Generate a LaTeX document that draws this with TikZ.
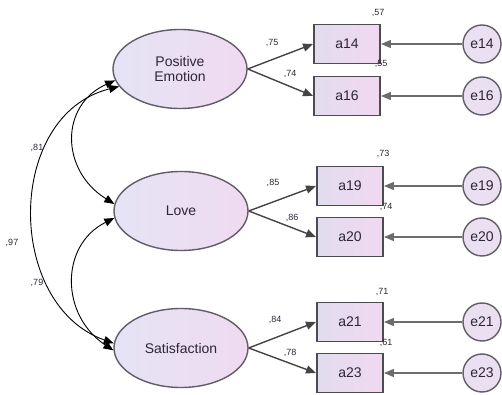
\documentclass[tikz,border=0pt]{standalone}
\usepackage{fontspec}
\setmainfont{Liberation Sans}
\usetikzlibrary{shapes.geometric,arrows.meta}
\definecolor{txt}{HTML}{2C2636}
\definecolor{latL}{HTML}{E4E4F5}
\definecolor{latR}{HTML}{F0DAF1}
\definecolor{latD}{HTML}{625C68}
\definecolor{boxL}{HTML}{E2DCEF}
\definecolor{boxR}{HTML}{F1D8F1}
\definecolor{boxD}{HTML}{4E4A52}
\definecolor{errF}{HTML}{EBE0F1}
\definecolor{lineC}{HTML}{444444}
\begin{document}
\begin{tikzpicture}[x=1pt,y=1pt,
  latent/.style={ellipse, draw=latD, line width=1.4pt, left color=latL, right color=latR,
    minimum width=134pt, minimum height=79pt, inner sep=0pt, align=center,
    font=\fontsize{14}{15.5}\selectfont, text=txt},
  obs/.style={rectangle, draw=boxD, line width=1.9pt, left color=boxL, right color=boxR,
    minimum width=66pt, minimum height=39pt, inner sep=0pt,
    font=\fontsize{14}{16}\selectfont, text=txt},
  err/.style={circle, draw=latD, line width=1.4pt, fill=errF, minimum size=38pt, inner sep=0pt,
    font=\fontsize{14}{16}\selectfont, text=txt},
  coef/.style={font=\fontsize{9}{10}\selectfont, text=txt, inner sep=0pt},
  load/.style={draw=lineC, line width=1.4pt, -{Triangle[length=10pt,width=8pt]}},
  cov/.style={draw=black, line width=0.9pt,
    {Triangle[length=10pt,width=8pt]}-{Triangle[length=10pt,width=8pt]}}
]
\useasboundingbox (0,0) rectangle (502,395);

% latent variables
\node[latent] (pe)   at (180,326) {Positive\\Emotion};
\node[latent] (love) at (181,184) {Love};
\node[latent] (sat)  at (181,47)  {Satisfaction};

% observed variables
\node[obs] (a14) at (347,351) {a14};
\node[obs] (a16) at (347,299) {a16};
\node[obs] (a19) at (350,209) {a19};
\node[obs] (a20) at (350,158) {a20};
\node[obs] (a21) at (350,73)  {a21};
\node[obs] (a23) at (350,22)  {a23};

% error terms
\node[err] (e14) at (482,351) {e14};
\node[err] (e16) at (482,299) {e16};
\node[err] (e19) at (482,209) {e19};
\node[err] (e20) at (482,158) {e20};
\node[err] (e21) at (482,73)  {e21};
\node[err] (e23) at (482,22)  {e23};

% loadings
\draw[load] (pe.east) -- (a14.west);
\draw[load] (pe.east) -- (a16.west);
\draw[load] (love.east) -- (a19.west);
\draw[load] (love.east) -- (a20.west);
\draw[load] (sat.east) -- (a21.west);
\draw[load] (sat.east) -- (a23.west);

% error paths
\foreach \n in {14,16,19,20,21,23}
  \draw[load, draw=gray!85!black] (e\n.west) -- (a\n.east);

% covariances
\draw[cov] (pe.190) .. controls (60,290) and (60,225) .. (love.174);
\draw[cov] (pe.196) .. controls (5,280) and (5,90) .. (sat.176);
\draw[cov] (love.186) .. controls (60,150) and (60,80) .. (sat.182);

% loading labels
\node[coef] (l14) at (272,352) {,75};
\node[coef] (l16) at (290,321) {,74};
\node[coef] (l19) at (273,212) {,85};
\node[coef] (l20) at (292,177) {,86};
\node[coef] (l21) at (275,75)  {,84};
\node[coef] (l23) at (290,42)  {,78};

% squared multiple correlations
\node[coef] (r14) at (378,382) {,57};
\node[coef] (r16) at (381,331) {,55};
\node[coef] (r19) at (383,241) {,73};
\node[coef] (r20) at (386,188) {,74};
\node[coef] (r21) at (382,103) {,71};
\node[coef] (r23) at (386,52)  {,61};

% covariance labels
\node[coef] (c1) at (37,247) {,81};
\node[coef] (c2) at (12,152) {,97};
\node[coef] (c3) at (37,112) {,79};
\end{tikzpicture}
\end{document}
